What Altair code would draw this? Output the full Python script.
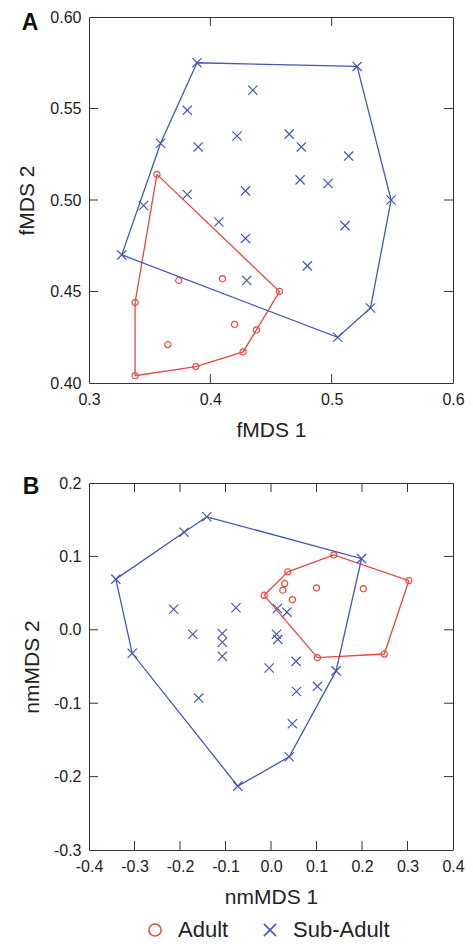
import altair as alt
import pandas as pd

RED = "#e8473d"
BLUE = "#4456b8"
CROSS = "M-1,-1L1,1M-1,1L1,-1"
GROUPS = ["Adult", "Sub-Adult"]
FONT = "Liberation Sans"

# ---------------- Panel A (fMDS) ----------------
a_adult_x = [0.356, 0.374, 0.410, 0.457, 0.338, 0.420, 0.438, 0.365, 0.427, 0.388, 0.338]
a_adult_y = [0.514, 0.456, 0.457, 0.450, 0.444, 0.432, 0.429, 0.421, 0.417, 0.409, 0.404]
a_adult_hull = [0, 3, 6, 8, 9, 10, 4, 0]

a_sub_x = [0.389, 0.521, 0.435, 0.381, 0.359, 0.390, 0.422, 0.465, 0.475, 0.514, 0.474, 0.497,
           0.429, 0.381, 0.549, 0.345, 0.407, 0.429, 0.327, 0.511, 0.480, 0.430, 0.532, 0.505]
a_sub_y = [0.575, 0.573, 0.560, 0.549, 0.531, 0.529, 0.535, 0.536, 0.529, 0.524, 0.511, 0.509,
           0.505, 0.503, 0.500, 0.497, 0.488, 0.479, 0.470, 0.486, 0.464, 0.456, 0.441, 0.425]
a_sub_hull = [0, 1, 14, 22, 23, 18, 4, 0]

a_x_ticks = [0.3, 0.4, 0.5, 0.6]
a_y_ticks = [0.40, 0.45, 0.50, 0.55, 0.60]

# ---------------- Panel B (nmMDS) ----------------
b_adult_x = [0.138, 0.303, 0.037, 0.030, 0.026, 0.100, 0.203, 0.047, -0.015, 0.102, 0.249]
b_adult_y = [0.102, 0.067, 0.079, 0.063, 0.054, 0.057, 0.056, 0.041, 0.047, -0.038, -0.033]
b_adult_hull = [8, 2, 0, 1, 10, 9, 8]

b_sub_x = [-0.141, -0.191, -0.341, 0.199, -0.214, -0.077, 0.014, 0.035, -0.172, -0.107, -0.107, 0.012,
           0.015, -0.107, -0.305, 0.055, -0.004, 0.143, 0.102, 0.056, -0.159, 0.047, 0.040, -0.073]
b_sub_y = [0.154, 0.133, 0.069, 0.097, 0.028, 0.030, 0.029, 0.024, -0.006, -0.005, -0.017, -0.006,
           -0.013, -0.036, -0.032, -0.043, -0.052, -0.056, -0.077, -0.084, -0.093, -0.128, -0.173, -0.213]
b_sub_hull = [0, 3, 17, 22, 23, 14, 2, 1, 0]

b_x_ticks = [-0.4, -0.3, -0.2, -0.1, 0.0, 0.1, 0.2, 0.3, 0.4]
b_y_ticks = [-0.3, -0.2, -0.1, 0.0, 0.1, 0.2]


def points_df(ax, ay, sx, sy):
    return pd.DataFrame({
        "x": ax + sx,
        "y": ay + sy,
        "group": ["Adult"] * len(ax) + ["Sub-Adult"] * len(sx),
    })


def hull_df(ax, ay, ah, sx, sy, sh):
    rows = []
    for g, xs, ys, h in (("Adult", ax, ay, ah), ("Sub-Adult", sx, sy, sh)):
        for k, i in enumerate(h):
            rows.append({"x": xs[i], "y": ys[i], "group": g, "order": k})
    return pd.DataFrame(rows)


LEGEND = alt.Legend(title=None, orient="none", direction="horizontal",
                    legendX=55, legendY=902,
                    labelFontSize=22, labelFont=FONT, labelColor="#222",
                    symbolSize=150, symbolStrokeWidth=1.5,
                    labelOffset=12, columnPadding=30)


def panel(pts, hull, xticks, yticks, xfmt, yfmt, xtitle, ytitle, letter,
          W, H, ytitle_x, letter_x, letter_y):
    xdom = [xticks[0], xticks[-1]]
    ydom = [yticks[0], yticks[-1]]
    xlab = f"(datum.value < 0 ? '-' : '') + format(abs(datum.value), '{xfmt}')"
    ylab = f"(datum.value < 0 ? '-' : '') + format(abs(datum.value), '{yfmt}')"
    xscale = alt.Scale(domain=xdom, nice=False, zero=False)
    yscale = alt.Scale(domain=ydom, nice=False, zero=False)
    cscale = alt.Scale(domain=GROUPS, range=[RED, BLUE])
    sscale = alt.Scale(domain=GROUPS, range=["circle", CROSS])

    xaxis = alt.Axis(values=xticks, labelExpr=xlab, ticks=False, tickSize=0, domain=False, grid=False,
                     labelFlush=False, labelOverlap=False, labelPadding=8, labelFontSize=16,
                     title=xtitle, titleFontSize=21, titleFontWeight="normal",
                     titleX=W / 2, titleY=53, titleBaseline="alphabetic", titleAlign="center")
    yaxis = alt.Axis(values=yticks, labelExpr=ylab, ticks=False, tickSize=0, domain=False, grid=False,
                     labelFlush=False, labelOverlap=False, labelPadding=8, labelFontSize=16,
                     title=ytitle, titleFontSize=21, titleFontWeight="normal",
                     titleX=ytitle_x, titleY=H / 2, titleAngle=-90, titleBaseline="alphabetic",
                     titleAlign="center")

    def hull_layer(group, color, with_axes):
        if with_axes:
            xe = alt.X("x:Q", scale=xscale, axis=xaxis)
            ye = alt.Y("y:Q", scale=yscale, axis=yaxis)
        else:
            xe = alt.X("x:Q", scale=xscale)
            ye = alt.Y("y:Q", scale=yscale)
        return alt.Chart(hull).transform_filter(alt.datum.group == group).mark_line(
            strokeWidth=1.3, color=color).encode(x=xe, y=ye, order="order:Q")

    def pts_layer(group, size):
        return alt.Chart(pts).transform_filter(
            alt.datum.group == group
        ).mark_point(filled=False, strokeWidth=1.2, opacity=1, size=size).encode(
            x=alt.X("x:Q", scale=xscale),
            y=alt.Y("y:Q", scale=yscale),
            color=alt.Color("group:N", scale=cscale, legend=LEGEND),
            shape=alt.Shape("group:N", scale=sscale, legend=LEGEND),
        )

    layers = [hull_layer("Adult", RED, True), hull_layer("Sub-Adult", BLUE, False),
              pts_layer("Adult", 38), pts_layer("Sub-Adult", 85)]

    inner_x = pd.DataFrame({"x": xticks[1:-1]})
    inner_y = pd.DataFrame({"y": yticks[1:-1]})
    tl = 9
    tick_style = dict(color="#333", strokeWidth=1)
    layers += [
        alt.Chart(inner_x).mark_rule(**tick_style).encode(
            x=alt.X("x:Q", scale=xscale), y=alt.value(H), y2=alt.value(H - tl)),
        alt.Chart(inner_x).mark_rule(**tick_style).encode(
            x=alt.X("x:Q", scale=xscale), y=alt.value(0), y2=alt.value(tl)),
        alt.Chart(inner_y).mark_rule(**tick_style).encode(
            y=alt.Y("y:Q", scale=yscale), x=alt.value(0), x2=alt.value(tl)),
        alt.Chart(inner_y).mark_rule(**tick_style).encode(
            y=alt.Y("y:Q", scale=yscale), x=alt.value(W - tl), x2=alt.value(W)),
    ]

    layers.append(alt.Chart(pd.DataFrame({"t": [letter]})).mark_text(
        fontSize=23, fontWeight="bold", font=FONT, align="center", baseline="middle", color="#111"
    ).encode(text="t:N", x=alt.value(letter_x), y=alt.value(letter_y)))

    return alt.layer(*layers).properties(width=W, height=H)


chart_a = panel(points_df(a_adult_x, a_adult_y, a_sub_x, a_sub_y),
                hull_df(a_adult_x, a_adult_y, a_adult_hull, a_sub_x, a_sub_y, a_sub_hull),
                a_x_ticks, a_y_ticks, ".1f", ".2f", "fMDS 1", "fMDS 2", "A",
                364, 366, -56, -59, 6)
chart_b = panel(points_df(b_adult_x, b_adult_y, b_sub_x, b_sub_y),
                hull_df(b_adult_x, b_adult_y, b_adult_hull, b_sub_x, b_sub_y, b_sub_hull),
                b_x_ticks, b_y_ticks, ".1f", ".1f", "nmMDS 1", "nmMDS 2", "B",
                364, 367, -51, -58, 4)

chart = alt.vconcat(chart_a, chart_b, spacing=100, bounds="flush").properties(
    padding={"left": 7, "top": 0, "right": 0, "bottom": 0}
).configure_view(stroke="#333", strokeWidth=1).configure_axis(
    labelFont=FONT, titleFont=FONT, labelColor="#222", titleColor="#222"
).configure_legend(labelFont=FONT)

chart.save("out.html", embed_options={"renderer": "svg", "actions": False})
